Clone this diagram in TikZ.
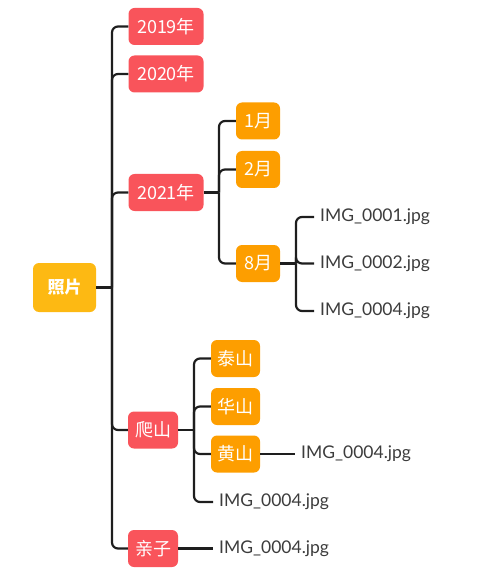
\documentclass[tikz,border=0pt]{standalone}
\usepackage{fontspec}
\setmainfont{Lato}
\newfontfamily\cjk{Noto Sans CJK SC}
\definecolor{rootc}{HTML}{FDB913}
\definecolor{redc}{HTML}{F9545B}
\definecolor{orc}{HTML}{FD9E00}
\definecolor{linec}{HTML}{1E1E1E}
\definecolor{txtc}{HTML}{3C3C3C}
\begin{document}
\begin{tikzpicture}[x=1pt,y=-1pt,
  box/.style={rounded corners=6pt,text=white,inner sep=0pt,font=\cjk\fontsize{18}{18}\selectfont},
  rootbox/.style={box,fill=rootc,minimum width=63pt,minimum height=49pt,font=\cjk\bfseries\fontsize{17}{17}\selectfont},
  redbox/.style={box,fill=redc,minimum height=37pt},
  orbox/.style={box,fill=orc,minimum height=37pt},
  file/.style={anchor=west,inner xsep=6pt,inner ysep=0pt,text=txtc,font=\fontsize{17.5}{17.5}\selectfont},
  conn/.style={draw=linec,line width=2.2pt},
  rc/.style={conn,rounded corners=6pt}]
\useasboundingbox (0,0) rectangle (487,577);
% nodes
\node[rootbox] (root) at (64.5,287.5) {照片};
\node[redbox,minimum width=75pt] (y19) at (166,26.5) {2019年};
\node[redbox,minimum width=75pt] (y20) at (166,74) {2020年};
\node[redbox,minimum width=75pt] (y21) at (166,192.5) {2021年};
\node[redbox,minimum width=50pt] (pa) at (153,430) {爬山};
\node[redbox,minimum width=50pt] (qz) at (153,548.5) {亲子};
\node[orbox,minimum width=44pt] (m1) at (258,121) {1月};
\node[orbox,minimum width=44pt] (m2) at (258,169.5) {2月};
\node[orbox,minimum width=44pt] (m8) at (258,263.5) {8月};
\node[orbox,minimum width=49pt] (ts) at (235.5,358.5) {泰山};
\node[orbox,minimum width=49pt] (hs) at (235.5,406.5) {华山};
\node[orbox,minimum width=49pt] (hg) at (235.5,454) {黄山};
\node[file] (f1) at (314,217) {IMG\_0001.jpg};
\node[file] (f2) at (314,263.5) {IMG\_0002.jpg};
\node[file] (f3) at (314,311) {IMG\_0004.jpg};
\node[file] (f4) at (295,454) {IMG\_0004.jpg};
\node[file] (f5) at (213,502) {IMG\_0004.jpg};
\node[file] (f6) at (213,548.5) {IMG\_0004.jpg};
% junctions
\coordinate (jr) at (112,287.5);
\coordinate (j21) at (219,192.5);
\coordinate (j8) at (296,263.5);
\coordinate (jp) at (194,430);
% connectors
\draw[conn] (root.east) -- (jr);
\foreach \c in {y19,y20,y21,pa,qz} \draw[rc] (jr) |- (\c.west);
\draw[conn] (y21.east) -- (j21);
\foreach \c in {m1,m2,m8} \draw[rc] (j21) |- (\c.west);
\draw[conn] (m8.east) -- (j8);
\foreach \c in {f1,f2,f3} \draw[rc] (j8) |- (\c.west);
\draw[conn] (pa.east) -- (jp);
\foreach \c in {ts,hs,hg,f5} \draw[rc] (jp) |- (\c.west);
\draw[conn] (hg.east) -- (f4.west);
\draw[conn] (qz.east) -- (f6.west);
\end{tikzpicture}
\end{document}
